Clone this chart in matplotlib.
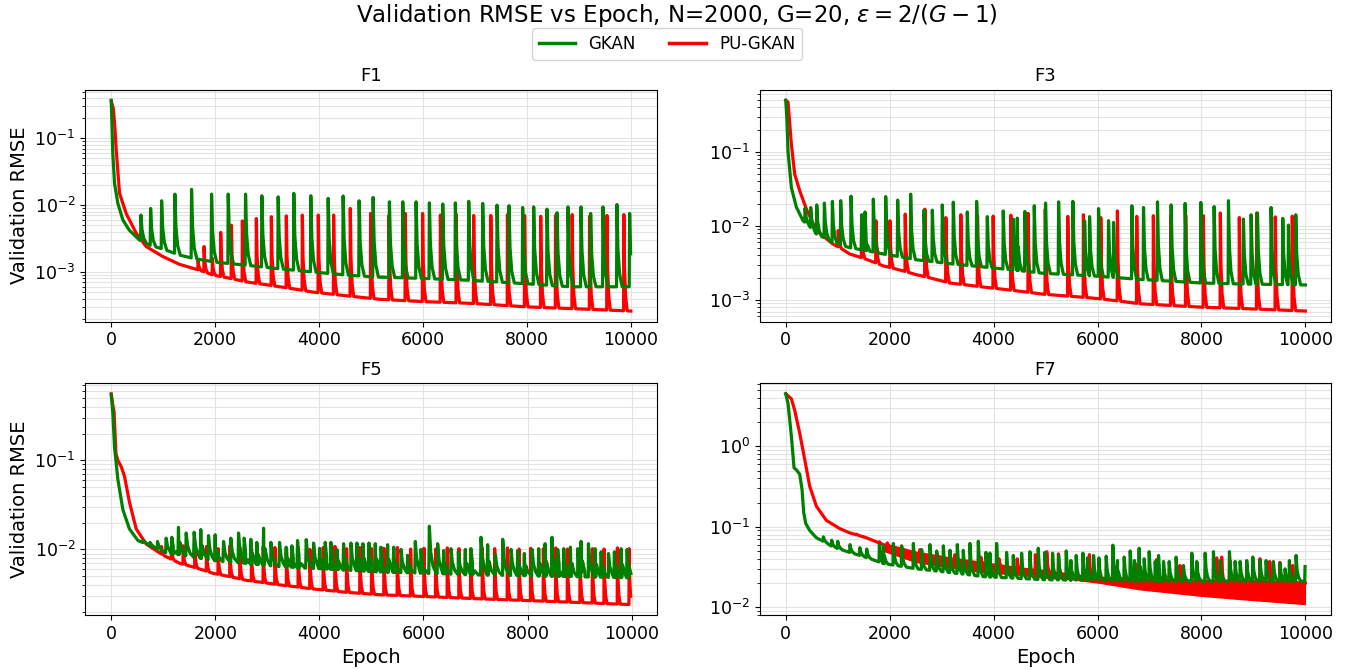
import numpy as np
import matplotlib
matplotlib.use("Agg")
import matplotlib.pyplot as plt
from matplotlib.lines import Line2D

# ---------------- data ----------------
# F1
f1_gkan_epoch = [0, 30, 64, 128, 224, 350, 545, 750, 994, 1300, 1570, 2000, 2600, 3200, 3880, 4500, 5100, 6000, 6900, 7800, 8830, 10000]
f1_gkan_val = [0.37, 0.06, 0.021, 0.0106, 0.006, 0.0042, 0.003, 0.0025, 0.0022, 0.0018, 0.0016, 0.0014, 0.00126, 0.00112, 0.001, 0.0009, 0.00084, 0.0008, 0.00075, 0.00068, 0.0006, 0.0006]
f1_gkan_spike_epoch = [564, 750, 962, 1218, 1538, 1923, 2244, 2577, 2891, 3205, 3506, 3833, 4167, 4455, 4763, 5032, 5346, 5603, 5859, 6115, 6372, 6615, 6872, 7141, 7417, 7647, 7910, 8122, 8378, 8571, 8782, 9032, 9218, 9455, 9724, 9968]
f1_gkan_spike_peak = [0.0071, 0.0089, 0.0116, 0.0146, 0.0172, 0.0146, 0.0146, 0.0146, 0.0138, 0.0133, 0.015, 0.0138, 0.0126, 0.0137, 0.0116, 0.013, 0.0112, 0.0112, 0.0112, 0.0108, 0.0104, 0.0108, 0.0114, 0.0106, 0.0100, 0.0098, 0.0092, 0.0094, 0.0087, 0.0077, 0.0094, 0.0094, 0.0075, 0.0094, 0.0102, 0.0075]
f1_pu_epoch = [0, 40, 70, 96, 160, 288, 480, 673, 994, 1314, 1955, 2600, 3240, 3880, 4520, 5160, 6000, 6900, 8000, 9000, 10000]
f1_pu_val = [0.36, 0.28, 0.15, 0.067, 0.015, 0.0075, 0.0038, 0.0024, 0.0017, 0.0013, 0.0009, 0.00071, 0.0006, 0.0005, 0.00044, 0.00039, 0.00036, 0.00034, 0.0003, 0.00028, 0.00026]
f1_pu_spike_epoch = [1667, 1782, 1942, 2102, 2308, 2519, 2788, 3077, 3365, 3673, 3980, 4275, 4596, 4987, 5340, 5654, 5987, 6330, 6635, 6970, 7300, 7620, 7950, 8260, 8545, 8865, 9200, 9535, 9860]
f1_pu_spike_peak = [0.0015, 0.0024, 0.0016, 0.0039, 0.005, 0.0058, 0.0063, 0.0067, 0.0069, 0.0071, 0.0071, 0.0071, 0.0089, 0.0075, 0.007, 0.0075, 0.0075, 0.0071, 0.0072, 0.007, 0.007, 0.0072, 0.007, 0.0068, 0.007, 0.0072, 0.0068, 0.007, 0.0072]

# F3
f3_gkan_epoch = [0, 20, 45, 109, 205, 333, 590, 910, 1230, 1872, 2513, 3154, 3795, 4950, 6000, 6814, 8000, 8737, 10000]
f3_gkan_val = [0.50, 0.3, 0.1, 0.033, 0.018, 0.0118, 0.0078, 0.006, 0.0051, 0.0042, 0.0035, 0.0031, 0.0028, 0.0023, 0.0021, 0.0019, 0.0017, 0.00165, 0.0016]
f3_gkan_spike_epoch = [365, 474, 590, 737, 891, 1051, 1250, 1455, 1519, 1679, 1917, 2147, 2397, 2654, 2814, 3006, 3218, 3487, 3667, 3872, 4179, 4372, 4449, 4596, 4776, 4993, 5244, 5519, 5744, 5840, 6013, 6205, 6301, 6654, 6878, 7147, 7410, 7679, 7981, 8237, 8513, 8801, 8949, 9071, 9333, 9558, 9667, 9808]
f3_gkan_spike_peak = [0.0174, 0.0178, 0.0193, 0.0204, 0.0215, 0.022, 0.0253, 0.0142, 0.0155, 0.0231, 0.025, 0.0224, 0.027, 0.0164, 0.0164, 0.0193, 0.021, 0.0155, 0.0215, 0.0134, 0.016, 0.0124, 0.0128, 0.0157, 0.0188, 0.0204, 0.0212, 0.0215, 0.0118, 0.0134, 0.0172, 0.0118, 0.0112, 0.0188, 0.0178, 0.0212, 0.0193, 0.0202, 0.0208, 0.0183, 0.022, 0.0124, 0.0142, 0.015, 0.0178, 0.0127, 0.0103, 0.0142]
f3_pu_epoch = [0, 45, 109, 173, 269, 397, 590, 910, 1230, 1872, 2513, 3154, 3795, 4950, 6000, 6814, 8000, 8737, 10000]
f3_pu_val = [0.50, 0.47, 0.127, 0.05, 0.03, 0.017, 0.0087, 0.0057, 0.0042, 0.0029, 0.0022, 0.0017, 0.0015, 0.0012, 0.00105, 0.00089, 0.0008, 0.00077, 0.00071]
f3_pu_spike_epoch = [1006, 1455, 1731, 2000, 2295, 2673, 3077, 3365, 3686, 3987, 4327, 4660, 4990, 5423, 5724, 6058, 6378, 6750, 7070, 7404, 7692, 8032, 8359, 8724, 9058, 9416, 9743]
f3_pu_spike_peak = [0.0087, 0.0116, 0.0118, 0.0118, 0.0145, 0.0169, 0.013, 0.0142, 0.0138, 0.0136, 0.014, 0.0148, 0.0169, 0.0135, 0.0142, 0.013, 0.016, 0.0135, 0.0138, 0.014, 0.014, 0.0138, 0.015, 0.013, 0.015, 0.0133, 0.0136]

# F5
f5_gkan_epoch = [0, 32, 64, 128, 224, 350, 513, 994, 1955, 3240, 5100, 6900, 10000]
f5_gkan_val = [0.55, 0.33, 0.14, 0.061, 0.028, 0.017, 0.0126, 0.0093, 0.0075, 0.0064, 0.0056, 0.0052, 0.0048]
f5_gkan_spike_epoch = [609, 737, 878, 1045, 1154, 1282, 1430, 1583, 1711, 1859, 1987, 2148, 2288, 2436, 2545, 2673, 2788, 2917, 3058, 3224, 3352, 3461, 3570, 3737, 3878, 3994, 4102, 4211, 4327, 4455, 4596, 4711, 4827, 4942, 5064, 5173, 5301, 5417, 5558, 5686, 5833, 5942, 6103, 6263, 6378, 6519, 6660, 6795, 6904, 7096, 7224, 7372, 7513, 7673, 7801, 7929, 8077, 8205, 8327, 8461, 8570, 8686, 8814, 8955, 9019, 9160, 9288, 9404, 9545, 9660, 9788, 9904]
f5_gkan_spike_peak = [0.0126, 0.012, 0.0123, 0.0134, 0.0137, 0.0177, 0.0153, 0.0156, 0.0167, 0.0143, 0.0146, 0.0123, 0.0134, 0.0153, 0.0134, 0.013, 0.012, 0.0173, 0.012, 0.012, 0.0106, 0.011, 0.0126, 0.0129, 0.0118, 0.0103, 0.012, 0.012, 0.01, 0.0116, 0.0118, 0.0118, 0.0116, 0.0118, 0.0116, 0.0106, 0.0113, 0.0106, 0.01, 0.0086, 0.0123, 0.01, 0.0182, 0.0116, 0.0097, 0.0102, 0.0095, 0.01, 0.0102, 0.0137, 0.0113, 0.0088, 0.013, 0.01, 0.0097, 0.009, 0.01, 0.0102, 0.0116, 0.0137, 0.01, 0.0102, 0.0106, 0.0102, 0.0123, 0.0116, 0.0102, 0.0094, 0.009, 0.0094, 0.0102, 0.01]
f5_pu_epoch = [0, 30, 55, 90, 128, 192, 256, 350, 480, 673, 994, 1314, 1955, 2600, 3240, 3880, 4520, 5160, 7000, 10000]
f5_pu_val = [0.56, 0.42, 0.35, 0.12, 0.1, 0.085, 0.066, 0.034, 0.017, 0.0115, 0.0086, 0.007, 0.0054, 0.0045, 0.004, 0.0036, 0.0033, 0.0031, 0.0028, 0.0024]
f5_pu_spike_epoch = [962, 1154, 1378, 1603, 1827, 2051, 2276, 2468, 2692, 2917, 3141, 3365, 3590, 3814, 4070, 4295, 4519, 4775, 5000, 5237, 5494, 5750, 6006, 6231, 6455, 6679, 6904, 7128, 7365, 7609, 7833, 8058, 8301, 8538, 8763, 9006, 9243, 9468, 9724, 9949]
f5_pu_spike_peak = [0.0108, 0.0105, 0.011, 0.0105, 0.0108, 0.0102, 0.011, 0.0105, 0.0102, 0.0108, 0.0105, 0.0102, 0.0105, 0.01, 0.0105, 0.0108, 0.0102, 0.0105, 0.0102, 0.0103, 0.0105, 0.0101, 0.0103, 0.0101, 0.0104, 0.0102, 0.0101, 0.0103, 0.0102, 0.0104, 0.0101, 0.0103, 0.0102, 0.0104, 0.0101, 0.0103, 0.0102, 0.0101, 0.0104, 0.0102]

# F7
f7_gkan_epoch = [0, 45, 109, 160, 205, 269, 314, 346, 385, 461, 590, 910, 1230, 1872, 2513, 3154, 3795, 4950, 6000, 7000, 8000, 9000, 10000]
f7_gkan_val = [4.5, 3.4, 1.33, 0.54, 0.51, 0.45, 0.29, 0.15, 0.11, 0.09, 0.073, 0.056, 0.048, 0.035, 0.03, 0.027, 0.024, 0.022, 0.0215, 0.021, 0.021, 0.021, 0.021]
f7_gkan_spike_epoch = [718, 878, 994, 1230, 1420, 1551, 1795, 1872, 2064, 2224, 2449, 2609, 2769, 2897, 3026, 3154, 3295, 3410, 3538, 3699, 3846, 3923, 4051, 4243, 4372, 4532, 4692, 4852, 4981, 5128, 5244, 5391, 5481, 5583, 5712, 5801, 5917, 6019, 6160, 6288, 6378, 6506, 6622, 6705, 6795, 6891, 6987, 7103, 7167, 7263, 7372, 7506, 7647, 7808, 7904, 8064, 8224, 8353, 8532, 8641, 8737, 8865, 8981, 9122, 9237, 9378, 9506, 9602, 9686, 9814, 9987]
f7_gkan_spike_peak = [0.075, 0.068, 0.066, 0.06, 0.055, 0.053, 0.06, 0.058, 0.062, 0.058, 0.062, 0.052, 0.06, 0.05, 0.058, 0.051, 0.06, 0.051, 0.062, 0.066, 0.048, 0.047, 0.062, 0.048, 0.044, 0.047, 0.049, 0.054, 0.048, 0.047, 0.044, 0.05, 0.038, 0.044, 0.047, 0.041, 0.044, 0.041, 0.043, 0.059, 0.038, 0.042, 0.05, 0.038, 0.054, 0.04, 0.049, 0.037, 0.044, 0.037, 0.037, 0.042, 0.033, 0.047, 0.037, 0.047, 0.049, 0.038, 0.049, 0.037, 0.037, 0.038, 0.042, 0.038, 0.038, 0.037, 0.035, 0.03, 0.038, 0.044, 0.032]
f7_pu_epoch = [0, 109, 173, 269, 365, 461, 590, 782, 1038, 1230, 1551, 1872, 2513, 3154, 3795, 4500, 4950, 5500, 6000, 7000, 8000, 9000, 10000]
f7_pu_val = [4.5, 3.9, 2.8, 1.46, 0.69, 0.32, 0.18, 0.12, 0.095, 0.084, 0.073, 0.06, 0.047, 0.04, 0.035, 0.03, 0.028, 0.025, 0.023, 0.022, 0.021, 0.021, 0.02]
f7_pu_low_epoch = [1872, 2513, 3154, 3795, 4500, 5000, 5500, 6013, 6814, 8000, 8737, 10000]
f7_pu_low_val = [0.05, 0.036, 0.031, 0.027, 0.025, 0.023, 0.022, 0.02, 0.0165, 0.0137, 0.0125, 0.0108]
f7_pu_spike_epoch = [1359, 1500, 1800, 1950, 2224, 2577, 2900, 3250, 3750, 4100, 4450, 4800, 5019, 5244, 5840, 6365, 6718, 7135, 7583, 8289, 8385, 8545, 9122, 9310, 9506, 9750]
f7_pu_spike_peak = [0.081, 0.075, 0.065, 0.063, 0.055, 0.052, 0.048, 0.045, 0.042, 0.04, 0.04, 0.045, 0.049, 0.046, 0.045, 0.032, 0.035, 0.039, 0.033, 0.041, 0.042, 0.038, 0.04, 0.037, 0.036, 0.033]

panel_titles = ["F1", "F3", "F5", "F7"]
series_labels = ["GKAN", "PU-GKAN"]
x_ticks = [0, 2000, 4000, 6000, 8000, 10000]
GREEN = "green"
RED = "red"
END_EPOCH = 10000
LW = 2.3


def build_line(bx, by, sx, sy, width):
    """Polyline of a read baseline with read spikes placed on it."""
    bx = np.asarray(bx, float)
    by = np.asarray(by, float)
    keep = np.ones(len(bx), bool)
    for e in sx:
        keep &= ~((bx > e - 1) & (bx < e + width + 1))
    xs = list(bx[keep])
    ys = list(by[keep])
    offs = np.array([0.0, 0.07, 0.25, 0.55, 1.0]) * width
    frac = np.array([0.0, 1.0, 0.45, 0.15, 0.0])
    for e, p in zip(sx, sy):
        for o, f in zip(offs, frac):
            x = e + o
            if x > END_EPOCH:
                continue
            b = np.interp(x, bx, by)
            xs.append(x)
            ys.append(b * (p / b) ** f)
    order = np.argsort(xs, kind="stable")
    return np.asarray(xs)[order], np.asarray(ys)[order]


fig, axes = plt.subplots(2, 2, figsize=(13.53, 6.7), dpi=100)
fig.subplots_adjust(left=0.063, right=0.984, top=0.866, bottom=0.082,
                    wspace=0.18, hspace=0.266)

panels = [
    (f1_gkan_epoch, f1_gkan_val, f1_gkan_spike_epoch, f1_gkan_spike_peak, 110,
     f1_pu_epoch, f1_pu_val, f1_pu_spike_epoch, f1_pu_spike_peak, 70),
    (f3_gkan_epoch, f3_gkan_val, f3_gkan_spike_epoch, f3_gkan_spike_peak, 100,
     f3_pu_epoch, f3_pu_val, f3_pu_spike_epoch, f3_pu_spike_peak, 70),
    (f5_gkan_epoch, f5_gkan_val, f5_gkan_spike_epoch, f5_gkan_spike_peak, 150,
     f5_pu_epoch, f5_pu_val, f5_pu_spike_epoch, f5_pu_spike_peak, 60),
    (f7_gkan_epoch, f7_gkan_val, f7_gkan_spike_epoch, f7_gkan_spike_peak, 100,
     f7_pu_epoch, f7_pu_val, f7_pu_spike_epoch, f7_pu_spike_peak, 60),
]

for i, (ax, p) in enumerate(zip(axes.flat, panels)):
    gx, gy, gsx, gsy, gw, rx, ry, rsx, rsy, rw = p
    lx, ly = build_line(rx, ry, rsx, rsy, rw)
    ax.plot(lx, ly, color=RED, lw=LW, zorder=2)
    if i == 3:
        ux = np.asarray(f7_pu_epoch, float)
        uy = np.asarray(f7_pu_val, float)
        m = ux >= f7_pu_low_epoch[0]
        px = np.r_[ux[m], np.asarray(f7_pu_low_epoch, float)[::-1]]
        py = np.r_[uy[m], np.asarray(f7_pu_low_val, float)[::-1]]
        ax.fill(px, py, color=RED, lw=1.0, zorder=2)
    hx, hy = build_line(gx, gy, gsx, gsy, gw)
    ax.plot(hx, hy, color=GREEN, lw=LW, zorder=3)
    ax.set_yscale("log")
    ax.set_title(panel_titles[i], fontsize=13)
    ax.set_xticks(x_ticks)
    ax.tick_params(labelsize=12.5)
    ax.grid(True, which="both", color="#e3e3e3", lw=0.8)
    ax.set_axisbelow(True)
    if i % 2 == 0:
        ax.set_ylabel("Validation RMSE", fontsize=14)
    if i >= 2:
        ax.set_xlabel("Epoch", fontsize=14)

fig.suptitle(r"Validation RMSE vs Epoch, N=2000, G=20, $\varepsilon = 2/(G-1)$",
             fontsize=16.5, y=0.997)
handles = [Line2D([], [], color=GREEN, lw=2.5), Line2D([], [], color=RED, lw=2.5)]
fig.legend(handles, series_labels, loc="upper center", ncol=2,
           bbox_to_anchor=(0.493, 0.97), fontsize=12, columnspacing=2.0,
           handlelength=2.2)

fig.savefig("out.png", dpi=100)
